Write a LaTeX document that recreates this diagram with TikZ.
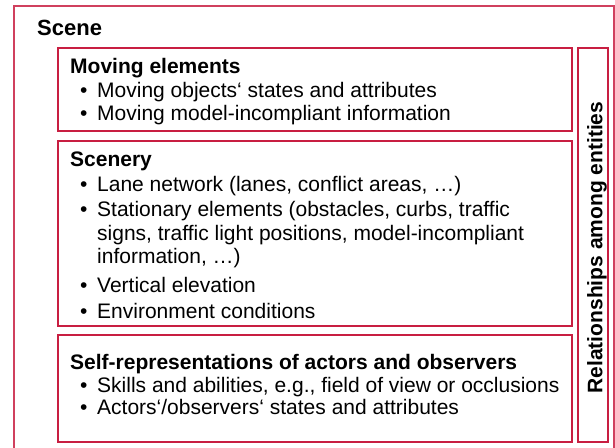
\documentclass[tikz,border=0pt]{standalone}
\usepackage{fontspec}
\setmainfont{Liberation Sans}
\definecolor{crim}{RGB}{200,30,65}
\begin{document}
\begin{tikzpicture}[x=1pt,y=-1pt,
  box/.style={draw=crim, line width=2pt},
  outerbox/.style={draw=crim!85, line width=1.5pt},
  txt/.style={anchor=base west, inner sep=0pt, font=\fontsize{21}{25}\selectfont},
  hd/.style={anchor=base west, inner sep=0pt, font=\fontsize{21}{25}\selectfont\bfseries},
  bul/.style={anchor=base west, inner sep=0pt, font=\fontsize{21}{25}\selectfont},
]
\useasboundingbox (0,0) rectangle (615,447);
\clip (0,0) rectangle (615,447);
\fill[white] (0,0) rectangle (615,447);
% boxes
\draw[outerbox] (14,6) rectangle (614,480);
\draw[box] (58,48) rectangle (571.5,131);
\draw[box] (58,140.7) rectangle (571.5,326);
\draw[box] (58,335) rectangle (571.5,442);
\draw[box] (577.5,48) rectangle (607.5,442);
% Scene
\node[anchor=base west, inner sep=0pt, font=\fontsize{22}{26}\selectfont\bfseries] (scene) at (37,35.5) {Scene};
% Moving elements
\node[hd] (mh) at (70,73.3) {Moving elements};
\node[bul] (mb1) at (80,97.5) {•};
\node[txt] (mt1) at (97,97.5) {Moving objects‘ states and attributes};
\node[bul] (mb2) at (80,120.7) {•};
\node[txt] (mt2) at (97,120.7) {Moving model-incompliant information};
% Scenery
\node[hd] (sh) at (70,166) {Scenery};
\node[bul] (sb1) at (80,191) {•};
\node[txt] (st1) at (97,191) {Lane network (lanes, conflict areas, …)};
\node[bul] (sb2) at (80,216.5) {•};
\node[txt] (st2) at (97,216.5) {Stationary elements (obstacles, curbs, traffic};
\node[txt] (st2b) at (97,240) {signs, traffic light positions, model-incompliant};
\node[txt] (st2c) at (97,263.5) {information, …)};
\node[bul] (sb3) at (80,292) {•};
\node[txt] (st3) at (97,292) {Vertical elevation};
\node[bul] (sb4) at (80,318) {•};
\node[txt] (st4) at (97,318) {Environment conditions};
% Self-representations
\node[hd] (rh) at (70,369) {Self-representations of actors and observers};
\node[bul] (rb1) at (80,392) {•};
\node[txt] (rt1) at (97,392) {Skills and abilities, e.g., field of view or occlusions};
\node[bul] (rb2) at (80,414) {•};
\node[txt] (rt2) at (97,414) {Actors‘/observers‘ states and attributes};
% Relationships
\node[anchor=base, inner sep=0pt, rotate=90, font=\fontsize{21}{25}\selectfont] (rel) at (602.3,247.5) {\bfseries Relationships among entities};
\end{tikzpicture}
\end{document}
